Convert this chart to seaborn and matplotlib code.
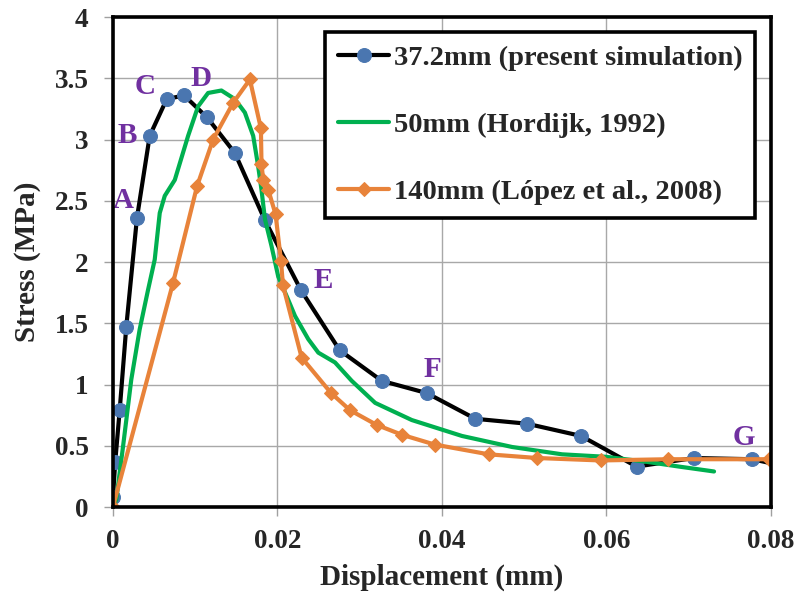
import pandas as pd
import numpy as np
import matplotlib
matplotlib.use("Agg")
import matplotlib.pyplot as plt
import seaborn as sns

# Data
sim_disp = [0.0, 0.00028, 0.00082, 0.00162, 0.00292, 0.00447, 0.00654, 0.00865,
            0.01145, 0.01482, 0.01848, 0.02286, 0.02756, 0.03268, 0.03816, 0.04406,
            0.05034, 0.05692, 0.06366, 0.07065, 0.07775, 0.0798]
sim_stress = [0.08, 0.37, 0.79, 1.47, 2.36, 3.03, 3.33, 3.36,
              3.18, 2.89, 2.34, 1.77, 1.28, 1.03, 0.93, 0.72,
              0.68, 0.58, 0.33, 0.40, 0.39, 0.36]

hord_disp = [0.0, 0.0004, 0.00122, 0.00223, 0.00325, 0.00426, 0.00508, 0.00569,
             0.0063, 0.00752, 0.00914, 0.01035, 0.01157, 0.01319, 0.01482, 0.01604,
             0.01705, 0.01766, 0.01806, 0.01848, 0.01928, 0.0201, 0.02132, 0.02213,
             0.02375, 0.02497, 0.027, 0.02903, 0.03188, 0.03633, 0.04243, 0.04852,
             0.05461, 0.05989, 0.06476, 0.06882, 0.07308]
hord_stress = [0.0, 0.06, 0.49, 1.04, 1.45, 1.77, 2.02, 2.40,
               2.54, 2.67, 3.03, 3.27, 3.38, 3.40, 3.33, 3.22,
               3.03, 2.78, 2.59, 2.35, 2.13, 1.88, 1.69, 1.56,
               1.37, 1.26, 1.18, 1.03, 0.85, 0.71, 0.58, 0.49,
               0.43, 0.41, 0.37, 0.33, 0.29]

lopez_disp = [0.0, 0.00731, 0.01023, 0.01218, 0.01462, 0.01665, 0.01799, 0.01806,
              0.01827, 0.01888, 0.01977, 0.02043, 0.02067, 0.02294, 0.02652, 0.02883,
              0.03207, 0.03512, 0.0391, 0.04568, 0.05156, 0.05928, 0.06752, 0.07978]
lopez_stress = [0.0, 1.83, 2.62, 3.00, 3.30, 3.49, 3.09, 2.80,
                2.67, 2.59, 2.39, 2.01, 1.81, 1.22, 0.93, 0.79,
                0.67, 0.59, 0.51, 0.43, 0.40, 0.38, 0.39, 0.39]

point_labels = ["A", "B", "C", "D", "E", "F", "G"]
label_x = [0.0013, 0.0018, 0.0039, 0.0107, 0.0256, 0.0388, 0.0767]
label_y = [2.5, 3.03, 3.43, 3.5, 1.85, 1.12, 0.57]

sns.set_theme(style="whitegrid")
plt.rcParams["font.family"] = ["Liberation Serif", "DejaVu Serif"]
plt.rcParams["font.weight"] = "bold"

fig = plt.figure(figsize=(8.01, 6.01), dpi=100)
ax = fig.add_axes([0.141, 0.1564, 0.8215, 0.8153])

sim_df = pd.DataFrame({"disp": sim_disp, "stress": sim_stress})
hord_df = pd.DataFrame({"disp": hord_disp, "stress": hord_stress})
lopez_df = pd.DataFrame({"disp": lopez_disp, "stress": lopez_stress})

sns.lineplot(data=sim_df, x="disp", y="stress", sort=False, estimator=None, ax=ax,
             color="black", linewidth=3, marker="o", markersize=10,
             markerfacecolor="#4A76B0", markeredgecolor="#4A76B0",
             markevery=list(range(len(sim_disp) - 1)),
             label="37.2mm (present simulation)", zorder=3)
sns.lineplot(data=hord_df, x="disp", y="stress", sort=False, estimator=None, ax=ax,
             color="#00B050", linewidth=3, label="50mm (Hordijk, 1992)", zorder=4)
sns.lineplot(data=lopez_df, x="disp", y="stress", sort=False, estimator=None, ax=ax,
             color="#E8833A", linewidth=3, marker="D", markersize=7,
             markerfacecolor="#E8833A", markeredgecolor="#E8833A",
             label="140mm (López et al., 2008)", zorder=5)

for lab, lx, ly in zip(point_labels, label_x, label_y):
    ax.text(lx, ly, lab, color="#7030A0", fontsize=21, fontweight="bold",
            ha="center", va="center", zorder=6)

ax.set_xlim(0, 0.08)
ax.set_ylim(0, 4)
ax.set_xticks([0, 0.02, 0.04, 0.06, 0.08])
ax.set_xticklabels(["0", "0.02", "0.04", "0.06", "0.08"])
ax.set_yticks(np.arange(0, 4.01, 0.5))
ax.set_yticklabels(["0", "0.5", "1", "1.5", "2", "2.5", "3", "3.5", "4"])
ax.tick_params(axis="both", which="major", length=6.5, width=1, color="#A0A0A0",
               labelsize=19.5, direction="out", bottom=True, left=True)
ax.tick_params(axis="x", pad=9)
ax.tick_params(axis="y", pad=11)
for t in ax.get_xticklabels() + ax.get_yticklabels():
    t.set_fontweight("bold")

ax.grid(True, color="#A8A8A8", linewidth=1)
ax.set_facecolor("white")
for side in ["left", "right", "top", "bottom"]:
    ax.spines[side].set_visible(True)
    ax.spines[side].set_color("black")
    ax.spines[side].set_linewidth(2.6)
    ax.spines[side].set_zorder(7)

ax.set_xlabel("Displacement (mm)", fontsize=21, fontweight="bold", labelpad=7)
ax.set_ylabel("Stress (MPa)", fontsize=21, fontweight="bold", labelpad=10)

leg = ax.legend(loc="upper right", bbox_to_anchor=(0.976, 0.969), fontsize=20.5,
                frameon=True, fancybox=False, framealpha=1, edgecolor="black",
                handlelength=1.8, handletextpad=0.15, labelspacing=1.45,
                borderpad=0.45, borderaxespad=0)
leg.get_frame().set_linewidth(2.6)
for txt in leg.get_texts():
    txt.set_fontweight("bold")
leg.set_zorder(8)

fig.savefig("out.png", dpi=100, facecolor="white")
